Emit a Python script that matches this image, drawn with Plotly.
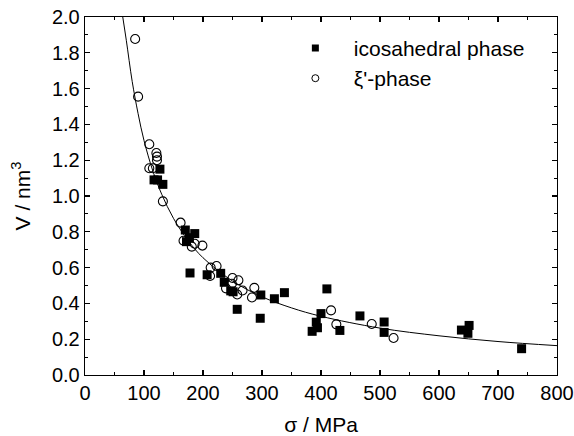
import plotly.graph_objects as go

# icosahedral phase (filled squares)
ico_sigma = [117, 123, 127, 132, 170, 172, 177, 186, 178, 207, 230, 236, 247, 251, 258,
             298, 297, 321, 338, 410, 400, 392, 394, 385, 432, 466, 507, 507, 638, 651, 649, 740]
ico_V = [1.09, 1.09, 1.15, 1.065, 0.81, 0.745, 0.767, 0.79, 0.57, 0.56, 0.568, 0.518, 0.47, 0.465, 0.367,
         0.447, 0.317, 0.426, 0.46, 0.481, 0.343, 0.295, 0.264, 0.244, 0.249, 0.33, 0.296, 0.238, 0.251, 0.277, 0.233, 0.147]

# xi'-phase (open circles)
xi_sigma = [85, 90, 109, 109, 115, 121, 122, 122, 132, 162, 167, 181, 186, 199, 213, 223, 212,
            239, 250, 260, 249, 258, 267, 287, 283, 417, 426, 486, 523]
xi_V = [1.877, 1.555, 1.289, 1.155, 1.155, 1.24, 1.22, 1.20, 0.97, 0.851, 0.75, 0.717, 0.733, 0.723, 0.6, 0.609, 0.553,
        0.484, 0.542, 0.529, 0.51, 0.45, 0.472, 0.487, 0.433, 0.361, 0.283, 0.285, 0.207]

# fitted curve, values
fit_sigma = [64, 70, 80, 90, 100, 115, 130, 150, 175, 200, 250, 300, 350, 400, 500, 600, 700, 800]
fit_V = [2.0, 1.87, 1.64, 1.46, 1.31, 1.14, 1.01, 0.875, 0.75, 0.655, 0.525, 0.437, 0.375, 0.328,
         0.262, 0.219, 0.187, 0.164]

x_ticks = [0, 100, 200, 300, 400, 500, 600, 700, 800]
y_ticks = [0.0, 0.2, 0.4, 0.6, 0.8, 1.0, 1.2, 1.4, 1.6, 1.8, 2.0]

FONT = "Liberation Sans, Arial, Helvetica, sans-serif"
FS = 21
TFS = 20

fig = go.Figure()
fig.add_trace(go.Scatter(x=fit_sigma, y=fit_V, mode="lines", line=dict(color="black", width=1, shape="spline"),
                         showlegend=False, hoverinfo="skip"))
fig.add_trace(go.Scatter(x=xi_sigma, y=xi_V, mode="markers", showlegend=False,
                         marker=dict(symbol="circle-open", size=9, color="black", line=dict(width=1.1))))
fig.add_trace(go.Scatter(x=ico_sigma, y=ico_V, mode="markers", showlegend=False,
                         marker=dict(symbol="square", size=9, color="black")))
# legend entries (smaller markers, as in the reference)
fig.add_trace(go.Scatter(x=[None], y=[None], mode="markers", name="icosahedral phase",
                         marker=dict(symbol="square", size=7, color="black")))
fig.add_trace(go.Scatter(x=[None], y=[None], mode="markers", name="\u03be'-phase",
                         marker=dict(symbol="circle-open", size=7, color="black", line=dict(width=1))))

axis_common = dict(showgrid=False, zeroline=False, showline=True, linecolor="black", linewidth=1.3,
                   mirror="allticks", ticks="inside", ticklen=5, tickwidth=1.2, tickcolor="black",
                   automargin=False, ticklabeloverflow="allow",
                   tickfont=dict(family=FONT, size=TFS, color="black"))

fig.update_xaxes(range=[0, 800], tickvals=x_ticks, ticktext=[str(v) for v in x_ticks],
                 minor=dict(dtick=50, ticks="inside", ticklen=3, tickwidth=1.1, tickcolor="black", showgrid=False),
                 title=dict(text="\u03c3 / MPa", font=dict(family=FONT, size=FS, color="black"), standoff=14),
                 **axis_common)
fig.update_yaxes(range=[0, 2.0], tickvals=y_ticks, ticktext=[f"{v:.1f}" for v in y_ticks],
                 minor=dict(dtick=0.1, ticks="inside", ticklen=3, tickwidth=1.1, tickcolor="black", showgrid=False),
                 title=dict(text="V / nm<sup>3</sup>", font=dict(family=FONT, size=FS, color="black"), standoff=15),
                 **axis_common)

fig.update_layout(
    width=574, height=436,
    margin=dict(l=85, r=17, t=17, b=61),
    plot_bgcolor="white", paper_bgcolor="white",
    font=dict(family=FONT, size=FS, color="black"),
    hovermode=False,
    legend=dict(x=0.4065, y=0.97, xanchor="left", yanchor="top", bgcolor="rgba(0,0,0,0)",
                font=dict(family=FONT, size=FS, color="black"), tracegroupgap=0, itemwidth=67),
)

fig.write_html("out.html", config={"displayModeBar": False, "staticPlot": True},
               post_script="document.body.style.margin='0px';")
